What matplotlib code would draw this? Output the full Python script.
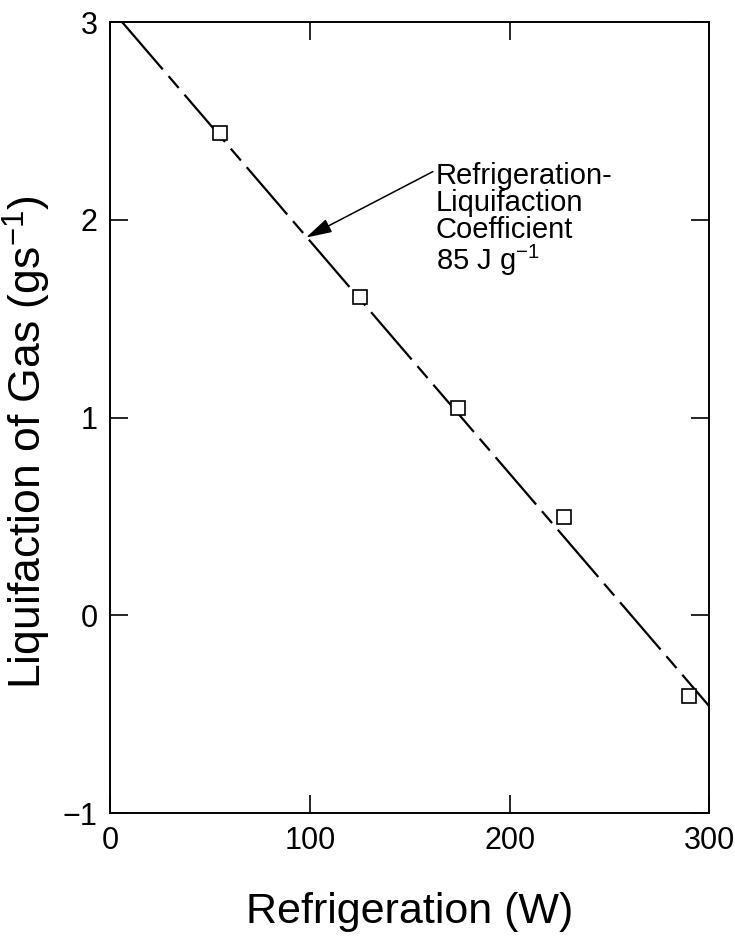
import numpy as np
import matplotlib
matplotlib.use('Agg')
import matplotlib.pyplot as plt

plt.rcParams['font.family'] = ['Liberation Sans', 'DejaVu Sans']
plt.rcParams['mathtext.fontset'] = 'custom'
plt.rcParams['mathtext.rm'] = 'Liberation Sans'

# measured points
refrig = [55, 125, 174, 227, 290]
liquif = [2.44, 1.61, 1.05, 0.50, -0.41]

# fitted line: slope = -1/85 g s^-1 per W
coef = 85
x_fit = [6, 300]
intercept = 3.07

fig = plt.figure(figsize=(7.35, 9.39), dpi=100)
ax = fig.add_axes([0.150, 0.134, 0.815, 0.8425])

xs = np.array(x_fit, dtype=float)
ax.plot(xs, intercept - xs / coef, color='black', lw=1.6,
        dashes=(28, 4, 7, 4), solid_capstyle='butt', zorder=2)
ax.plot(refrig, liquif, 's', ms=10, mfc='white', mec='black', mew=1.2, zorder=3)

ax.annotate('Refrigeration-\nLiquifaction\nCoefficient\n85 J g$^{-1}$',
            xy=(98, 1.91), xytext=(163, 2.0), fontsize=21,
            ha='left', va='center', linespacing=0.95,
            arrowprops=dict(arrowstyle='-|>,head_length=0.8,head_width=0.22',
                            color='black', lw=1.1,
                            mutation_scale=20, shrinkA=0, shrinkB=0,
                            relpos=(0, 0.93)))

ax.set_xlim(0, 300)
ax.set_ylim(-1, 3)
ax.set_xticks([0, 100, 200, 300])
ax.set_yticks([-1, 0, 1, 2, 3])
ax.set_yticklabels(['\u22121', '0', '1', '2', '3'])
ax.tick_params(direction='in', length=13, width=1.2, labelsize=22, pad=9,
               top=True, right=True)
for s in ax.spines.values():
    s.set_linewidth(1.4)

ax.set_xlabel('Refrigeration (W)', fontsize=31, labelpad=26)
ax.set_ylabel('Liquifaction of Gas (gs$^{-1}$)', fontsize=32)
ax.yaxis.set_label_coords(-0.095, 0.469)

fig.savefig('out.png', dpi=100)
